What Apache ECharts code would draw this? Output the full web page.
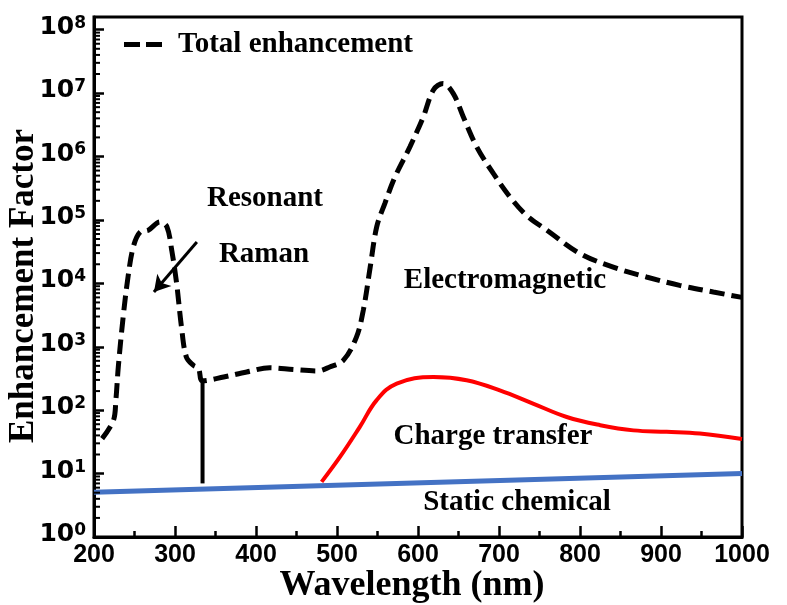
<!DOCTYPE html>
<html>
<head>
<meta charset="utf-8">
<script src="https://cdn.jsdelivr.net/npm/echarts@6/dist/echarts.min.js"></script>
<style>
html,body{margin:0;padding:0;background:#fff;}
#chart{width:787px;height:605px;}
</style>
</head>
<body>
<div id="chart"></div>
<script>
// ---- data ----
const totalWavelength = [210, 224, 227, 230, 236, 242, 248.5, 257, 267, 281.5, 290, 296, 302, 308, 314, 322.6, 329, 334,
  360, 388.5, 417, 446, 475, 491, 508, 524, 532.5, 541, 549, 559, 571.6, 590, 606.5, 619, 631, 643.6, 656, 672.5, 693,
  713.6, 734, 759, 800, 841, 882, 923, 964.6, 1000];
const totalEF = [35.6, 69, 144, 480, 2950, 12600, 37500, 64500, 69000, 93000, 78000, 33000, 10000, 2050, 690, 510, 455, 290,
  333, 400, 465, 437, 415, 480, 615, 1420, 3780, 18100, 77600, 181000, 477000, 1.42e6, 4.2e6, 1.12e7, 1.42e7, 9.8e6, 4.2e6, 1.42e6, 5.4e5,
  2.3e5, 1.18e5, 6.9e4, 2.95e4, 1.8e4, 1.26e4, 9300, 7300, 6000];

const ctWavelength = [481, 503.7, 528, 549, 573.7, 619, 660, 701, 742, 783.6, 825, 866, 907, 948, 1000];
const ctEF = [7.4, 18.3, 54, 144, 263, 333, 296, 205, 127, 78, 58, 48, 45.6, 42.7, 35];

const staticWavelength = [200, 1000];
const staticEF = [5.1, 10];

const ramanLineWavelength = [334, 334];
const ramanLineEF = [7, 280];

const arrowWavelength = [327, 274];
const arrowEF = [45000, 7300];

const yExponents = [0, 1, 2, 3, 4, 5, 6, 7, 8];
const xTickValues = [200, 300, 400, 500, 600, 700, 800, 900, 1000];

// ---- helpers ----
const lg = v => Math.log10(v);
const pairs = (xs, ys) => xs.map((x, i) => [x, lg(ys[i])]);

const minorTickData = [];
yExponents.forEach(k => {
  for (let m = 2; m <= 9; m++) {
    const v = k + Math.log10(m);
    if (v < 8.2) minorTickData.push([200, v]);
  }
});

const serif = '"Liberation Serif", "Times New Roman", serif';
const sans = '"Liberation Sans", Arial, sans-serif';

const chart = echarts.init(document.getElementById('chart'), null, {renderer: 'canvas'});

function txt(text, x, y, size, rot) {
  return {
    type: 'text', x: x, y: y, rotation: rot || 0, z: 100,
    style: {
      text: text, fill: '#000', fontFamily: serif, fontWeight: 'bold', fontSize: size,
      align: 'center', verticalAlign: 'middle'
    }
  };
}

const option = {
  animation: false,
  backgroundColor: '#fff',
  grid: {left: 94, right: 45, top: 17, bottom: 68, show: true, borderColor: '#000', borderWidth: 3, backgroundColor: 'transparent'},
  legend: {
    data: [{name: 'Total enhancement', icon: 'path://M0,0H16V5H0Z M22,0H38V5H22Z'}],
    left: 124, top: 30, padding: 0,
    itemWidth: 38, itemHeight: 5,
    itemStyle: {color: '#000', borderWidth: 0},
    textStyle: {fontFamily: serif, fontWeight: 'bold', fontSize: 29, color: '#000', padding: [0, 0, 0, 11]},
    selectedMode: false
  },
  xAxis: {
    type: 'value', min: 200, max: 1000, interval: 100,
    axisLine: {show: true, lineStyle: {color: '#000', width: 3}},
    axisTick: {show: true, inside: true, length: 11, lineStyle: {color: '#000', width: 2.5}},
    minorTick: {show: true, splitNumber: 2, length: 6, lineStyle: {color: '#000', width: 2.5}},
    splitLine: {show: false},
    axisLabel: {color: '#000', fontFamily: sans, fontWeight: 'bold', fontSize: 25, margin: 6,
      formatter: v => (xTickValues.indexOf(v) >= 0 ? String(v) : '')}
  },
  yAxis: {
    type: 'value', min: 0, max: 8.2, interval: 1,
    axisLine: {show: true, lineStyle: {color: '#000', width: 3}},
    axisTick: {show: true, inside: true, length: 10, lineStyle: {color: '#000', width: 2.5}},
    splitLine: {show: false},
    axisLabel: {
      showMaxLabel: false, margin: 8, padding: [0, 0, 5, 0],
      formatter: v => (yExponents.indexOf(v) >= 0 ? '{b|10}{s|' + v + '}' : ''),
      rich: {
        b: {fontFamily: '"DejaVu Sans", sans-serif', fontWeight: 'bold', fontSize: 25, lineHeight: 25, color: '#000', verticalAlign: 'bottom'},
        s: {fontFamily: '"DejaVu Sans", sans-serif', fontWeight: 'bold', fontSize: 17, lineHeight: 17, color: '#000', verticalAlign: 'top', padding: [0, 0, 12, 0]}
      }
    }
  },
  graphic: [
    txt('Enhancement Factor', 24, 286, 35, Math.PI / 2),
    txt('Wavelength (nm)', 412, 586, 36),
    txt('Resonant', 265, 199, 29),
    txt('Raman', 264, 255, 29),
    txt('Electromagnetic', 505, 281, 29),
    txt('Charge transfer', 493, 437, 29),
    txt('Static chemical', 517, 503, 29)
  ],
  series: [
    {
      name: 'Minor ticks', type: 'custom', silent: true, z: 5,
      data: minorTickData,
      renderItem: function (params, api) {
        const p = api.coord([api.value(0), api.value(1)]);
        return {type: 'line', shape: {x1: p[0], y1: p[1], x2: p[0] + 6, y2: p[1]}, style: {stroke: '#000', lineWidth: 2}};
      }
    },
    {
      name: 'Static chemical', type: 'line', data: pairs(staticWavelength, staticEF),
      showSymbol: false, symbol: 'none', lineStyle: {color: '#4472C4', width: 5}, itemStyle: {color: '#4472C4'}, z: 3
    },
    {
      name: 'Charge transfer', type: 'line', data: pairs(ctWavelength, ctEF), smooth: 0.4,
      showSymbol: false, symbol: 'none', lineStyle: {color: '#FF0000', width: 4}, itemStyle: {color: '#FF0000'}, z: 3
    },
    {
      name: 'Raman marker', type: 'line', data: pairs(ramanLineWavelength, ramanLineEF),
      showSymbol: false, symbol: 'none', lineStyle: {color: '#000', width: 4}, itemStyle: {color: '#000'}, z: 3,
      markLine: {
        silent: true, symbol: ['none', 'arrow'], symbolSize: [14, 16],
        label: {show: false},
        lineStyle: {color: '#000', width: 3, type: 'solid'},
        data: [[{coord: [arrowWavelength[0], lg(arrowEF[0])]}, {coord: [arrowWavelength[1], lg(arrowEF[1])]}]]
      }
    },
    {
      name: 'Total enhancement', type: 'line', data: pairs(totalWavelength, totalEF), smooth: 0.35,
      showSymbol: false, symbol: 'none', lineStyle: {color: '#000', width: 5, type: [15, 7]}, itemStyle: {color: '#000'}, z: 4
    }
  ]
};
chart.setOption(option);
</script>
</body>
</html>
